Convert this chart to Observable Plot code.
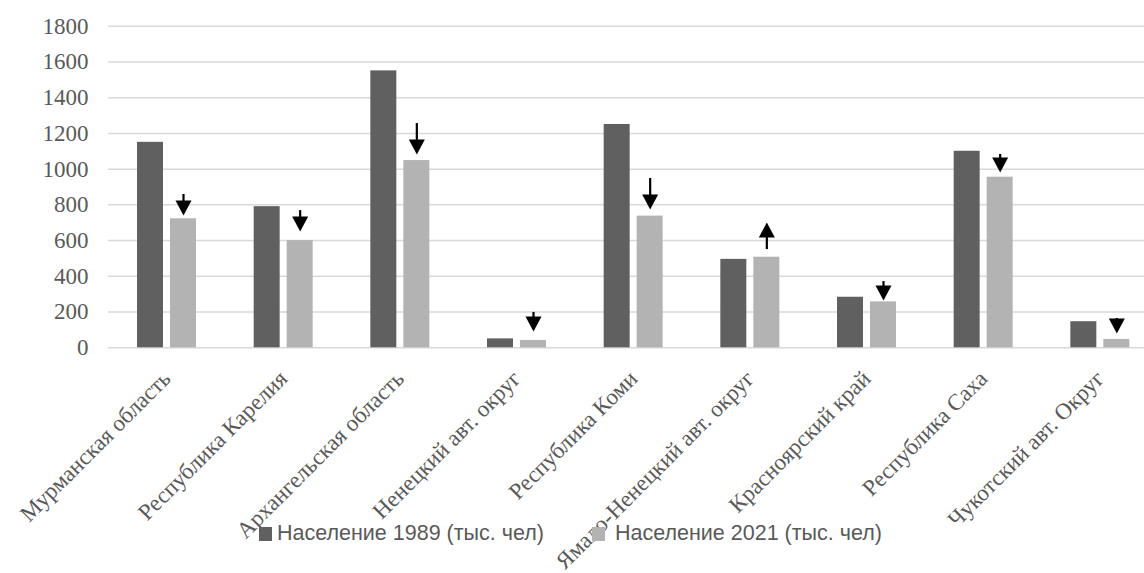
<!DOCTYPE html>
<html lang="ru">
<head>
<meta charset="utf-8">
<script src="https://cdn.jsdelivr.net/npm/d3@7"></script>
<script src="https://cdn.jsdelivr.net/npm/@observablehq/plot@0.6"></script>
<style>
  html, body { margin: 0; padding: 0; background: #fff; overflow: hidden; }
  #wrap { position: relative; width: 1144px; height: 573px; overflow: hidden; }
  .legend-sw { position: absolute; top: 527px; width: 13px; height: 14px; }
  .legend-tx { position: absolute; top: 522px; line-height: 22px; white-space: nowrap;
    font-family: "Liberation Sans", Arial, sans-serif; font-size: 21.5px; color: #595959; }
</style>
</head>
<body>
<div id="wrap"></div>
<script>
// Regions of the Russian North and their population, thousand people
const regions = [
  "Мурманская область",
  "Республика Карелия",
  "Архангельская область",
  "Ненецкий авт. округ",
  "Республика Коми",
  "Ямало-Ненецкий авт. округ",
  "Красноярский край",
  "Республика Саха",
  "Чукотский авт. Округ"
];
const pop1989 = [1150, 790, 1550, 50, 1250, 495, 283, 1100, 146];
const pop2021 = [722, 600, 1048, 41, 737, 507, 257, 955, 47];

// Trend arrows over the 2021 bars: tail and tip values on the y scale
const arrowFrom = [858, 768, 1255, 198, 948, 550, 371, 1082, 164];
const arrowTo   = [740, 651, 1082, 91, 774, 701, 265, 981, 80];

const yTicks = [0, 200, 400, 600, 800, 1000, 1200, 1400, 1600, 1800];
const seriesNames = ["Население 1989 (тыс. чел)", "Население 2021 (тыс. чел)"];
const colors = ["#606060", "#b3b3b3"];

const rows1989 = regions.map((r, i) => ({region: r, value: pop1989[i]}));
const rows2021 = regions.map((r, i) => ({region: r, value: pop2021[i]}));
const arrows = regions.map((r, i) => ({region: r, from: arrowFrom[i], to: arrowTo[i], up: arrowTo[i] > arrowFrom[i]}));

// Filled arrowhead whose tip sits at the origin, pointing down
const arrowHead = {
  draw(context) {
    context.moveTo(0, 0);
    context.lineTo(-8, -15);
    context.lineTo(8, -15);
    context.closePath();
  }
};

const shift2021 = 16.67; // offset from band centre to the 2021 bar centre
const serif = "'Liberation Serif', 'Times New Roman', serif";

const chart = Plot.plot({
  width: 1144,
  height: 573,
  marginTop: 25.7,
  marginBottom: 225.7,
  marginLeft: 108,
  marginRight: -14,
  style: {fontFamily: serif, fontSize: "23px", color: "#595959", background: "#fff"},
  x: {domain: regions, padding: 0, round: false, axis: null},
  y: {domain: [0, 1800], axis: null},
  marks: [
    Plot.ruleY(yTicks, {stroke: "#d9d9d9", strokeWidth: 1.5}),
    Plot.text(yTicks, {y: d => d, frameAnchor: "left", textAnchor: "end", dx: -20, lineAnchor: "middle",
      text: d => String(d), fontFamily: serif, fontSize: 23, fill: "#595959"}),
    Plot.barY(rows1989, {x: "region", y: "value", fill: colors[0], insetLeft: 29, insetRight: 61.67}),
    Plot.barY(rows2021, {x: "region", y: "value", fill: colors[1], insetLeft: 62, insetRight: 28.67}),
    Plot.ruleX(arrows.filter(d => !d.up), {x: "region", y1: "from", y2: "to", dx: shift2021, stroke: "#000", strokeWidth: 2.2, insetBottom: 8}),
    Plot.ruleX(arrows.filter(d => d.up), {x: "region", y1: "to", y2: "from", dx: shift2021, stroke: "#000", strokeWidth: 2.2, insetTop: 8}),
    Plot.dot(arrows, {x: "region", y: "to", dx: shift2021, symbol: arrowHead, fill: "#000", stroke: null, r: 5, rotate: d => d.up ? 180 : 0}),
    Plot.text(regions, {x: d => d, y: () => 0, dx: 0, dy: 27, rotate: -45, textAnchor: "end", lineAnchor: "middle",
      fontFamily: serif, fontSize: 23, fill: "#595959"})
  ]
});

const wrap = document.getElementById("wrap");
wrap.appendChild(chart);

// Legend drawn over the lower part of the chart
const swatchLeft = [259, 592];
const labelLeft = [277, 615];
seriesNames.forEach((name, i) => {
  const sw = document.createElement("div");
  sw.className = "legend-sw";
  sw.style.left = swatchLeft[i] + "px";
  sw.style.background = colors[i];
  const label = document.createElement("div");
  label.className = "legend-tx";
  label.style.left = labelLeft[i] + "px";
  label.textContent = name;
  wrap.appendChild(sw);
  wrap.appendChild(label);
});
</script>
</body>
</html>
